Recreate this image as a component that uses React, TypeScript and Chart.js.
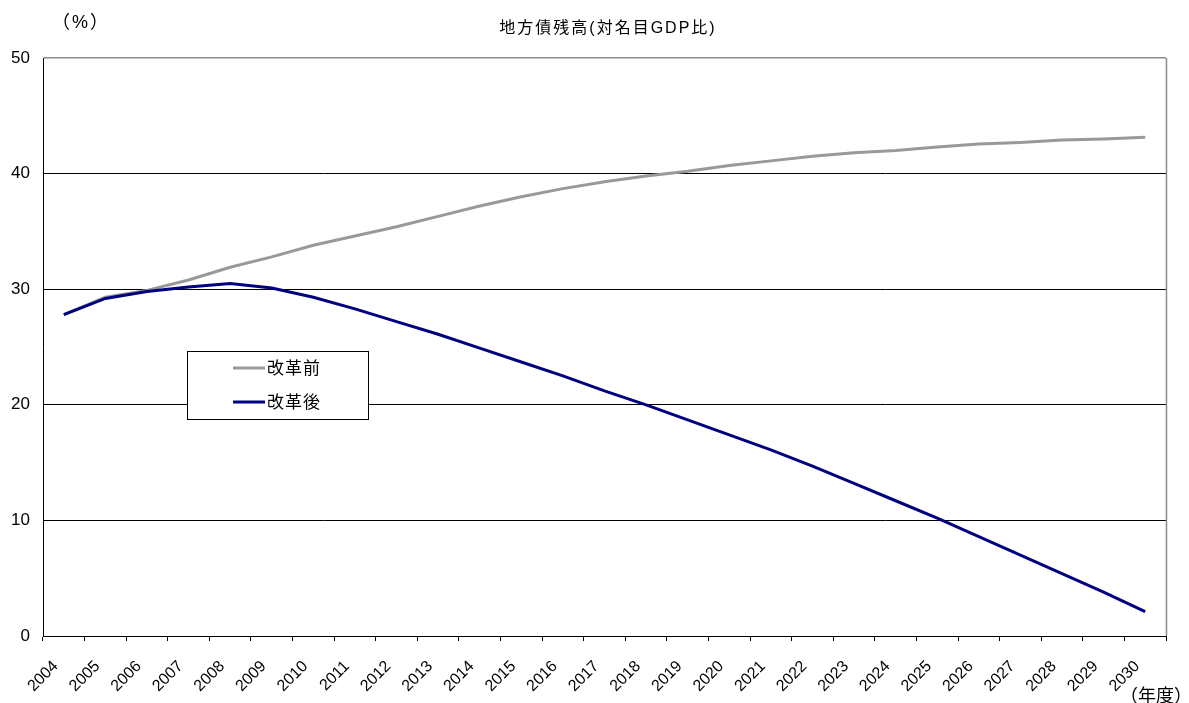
import React, { useEffect, useRef } from "react";
import { Chart, registerables } from "chart.js";

Chart.register(...registerables);

const years = [
  "2004", "2005", "2006", "2007", "2008", "2009", "2010", "2011", "2012",
  "2013", "2014", "2015", "2016", "2017", "2018", "2019", "2020", "2021",
  "2022", "2023", "2024", "2025", "2026", "2027", "2028", "2029", "2030",
];

const beforeReform = [
  27.8, 29.3, 29.9, 30.8, 31.9, 32.8, 33.8, 34.6, 35.4, 36.3, 37.2, 38.0, 38.7,
  39.3, 39.8, 40.2, 40.7, 41.1, 41.5, 41.8, 42.0, 42.3, 42.55, 42.7, 42.9, 43.0, 43.15,
];

const afterReform = [
  27.8, 29.2, 29.8, 30.2, 30.5, 30.1, 29.3, 28.3, 27.2, 26.1, 24.9, 23.7, 22.5,
  21.2, 20.0, 18.7, 17.4, 16.1, 14.7, 13.2, 11.7, 10.2, 8.6, 7.0, 5.4, 3.8, 2.1,
];

const seriesLabels = ["改革前", "改革後"];
const seriesColors = ["#999999", "#000080"];
const yMin = 0;
const yMax = 50;
const yStep = 10;

const chartTitle = "地方債残高(対名目GDP比)";
const yUnit = "（%）";
const xUnit = "（年度）";

const FONT = '"Liberation Sans", "Noto Sans CJK JP", sans-serif';

export default function App() {
  const ref = useRef<HTMLCanvasElement>(null);

  useEffect(() => {
    if (!ref.current) return;

    const decorPlugin = {
      id: "decor",
      afterDatasetsDraw(chart: any) {
        const { ctx, chartArea } = chart;
        ctx.save();
        // right border of plot area
        ctx.strokeStyle = "#8c8c8c";
        ctx.lineWidth = 1.5;
        const rx = Math.round(chartArea.right) + 0.5;
        ctx.beginPath();
        ctx.moveTo(rx, chartArea.top);
        ctx.lineTo(rx, chartArea.bottom);
        ctx.stroke();

        // legend box
        const bx = 187.5, by = 351.5, bw = 181, bh = 68;
        ctx.fillStyle = "#ffffff";
        ctx.fillRect(bx, by, bw, bh);
        ctx.strokeStyle = "#000000";
        ctx.lineWidth = 1;
        ctx.strokeRect(bx, by, bw, bh);
        const rowsY = [368, 402];
        chart.data.datasets.forEach((ds: any, i: number) => {
          ctx.strokeStyle = ds.borderColor;
          ctx.lineWidth = 3;
          ctx.beginPath();
          ctx.moveTo(233, rowsY[i]);
          ctx.lineTo(265, rowsY[i]);
          ctx.stroke();
          ctx.fillStyle = "#000000";
          ctx.font = `17px ${FONT}`;
          (ctx as any).letterSpacing = "1px";
          ctx.textAlign = "left";
          ctx.textBaseline = "middle";
          ctx.fillText(ds.label, 267, rowsY[i] + 1);
        });

        // titles
        ctx.fillStyle = "#000000";
        ctx.font = `16px ${FONT}`;
        (ctx as any).letterSpacing = "2px";
        ctx.textAlign = "center";
        ctx.textBaseline = "middle";
        ctx.fillText(chartTitle, 608, 29);
        ctx.font = `18px ${FONT}`;
        (ctx as any).letterSpacing = "2px";
        ctx.fillText(yUnit, 81, 23);
        (ctx as any).letterSpacing = "0px";
        ctx.textAlign = "right";
        ctx.fillText(xUnit, 1192, 697);
        ctx.restore();
      },
    };

    const chart = new Chart(ref.current, {
      type: "line",
      data: {
        labels: years,
        datasets: [
          {
            label: seriesLabels[0],
            data: beforeReform,
            borderColor: seriesColors[0],
            backgroundColor: seriesColors[0],
            borderWidth: 3,
            pointRadius: 0,
            tension: 0,
            order: 1,
          },
          {
            label: seriesLabels[1],
            data: afterReform,
            borderColor: seriesColors[1],
            backgroundColor: seriesColors[1],
            borderWidth: 3,
            pointRadius: 0,
            tension: 0,
            order: 0,
          },
        ],
      },
      options: {
        animation: false,
        responsive: true,
        maintainAspectRatio: false,
        layout: { padding: { top: 58, right: 23, left: 0, bottom: 0 } },
        plugins: {
          legend: { display: false },
          title: { display: false },
          tooltip: { enabled: false },
        },
        scales: {
          x: {
            type: "category",
            offset: true,
            afterFit: (scale: any) => {
              scale.height = 67;
            },
            grid: {
              offset: true,
              drawOnChartArea: false,
              drawTicks: true,
              tickLength: 5,
              color: "#000000",
            },
            border: { display: true, color: "#000000", width: 1 },
            ticks: {
              autoSkip: false,
              minRotation: 45,
              maxRotation: 45,
              padding: 16,
              labelOffset: -8,
              color: "#000000",
              font: { family: FONT, size: 16 },
            },
          },
          y: {
            min: yMin,
            max: yMax,
            afterFit: (scale: any) => {
              scale.width = 43;
            },
            grid: {
              color: (c: any) => (c.tick && c.tick.value === yMax ? "#8c8c8c" : "#000000"),
              lineWidth: (c: any) => (c.tick && c.tick.value === yMax ? 1.5 : 1),
              drawTicks: false,
            },
            border: { display: true, color: "#000000", width: 1 },
            ticks: {
              stepSize: yStep,
              padding: 13,
              color: "#000000",
              font: { family: FONT, size: 17 },
            },
          },
        },
      },
      plugins: [decorPlugin],
    });

    return () => chart.destroy();
  }, []);

  return (
    <div style={{ position: "fixed", left: 0, top: 0, width: 1189, height: 703, background: "#ffffff" }}>
      <canvas ref={ref} />
    </div>
  );
}
